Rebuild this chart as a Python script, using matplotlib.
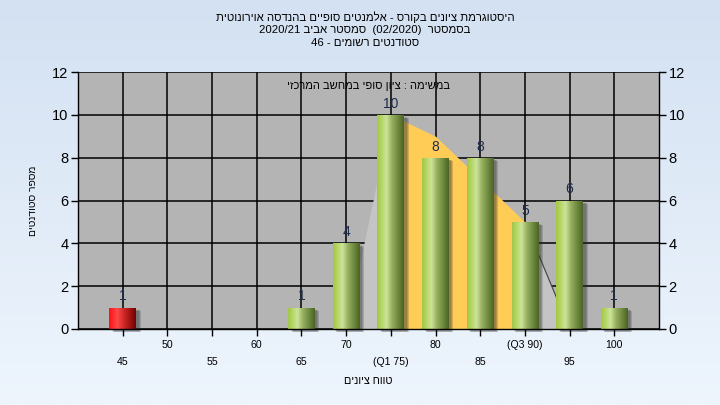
import re
import numpy as np
import matplotlib
matplotlib.use("Agg")
import matplotlib.pyplot as plt
import matplotlib.patches as mpatches
import matplotlib.transforms as mtransforms
from matplotlib.colors import LinearSegmentedColormap

plt.rcParams['font.family'] = ['Liberation Sans', 'DejaVu Sans']

# ---------------- data ----------------
grades = ["45", "50", "55", "60", "65", "70", "75", "80", "85", "90", "95", "100"]
counts = [1, 0, 0, 0, 1, 4, 10, 8, 8, 5, 6, 1]
tick_labels = ["45", "50", "55", "60", "65", "70", "(Q1 75)", "80", "85", "(Q3 90)", "95", "100"]
fail_grades = ["45"]
curve_grades = ["70", "75", "80", "85", "90", "95"]
curve_values = [0, 10, 9, 7, 5, 0]
q1_grade = "75"
q3_grade = "90"

title_lines = [
    "היסטוגרמת ציונים בקורס - אלמנטים סופיים בהנדסה אוירונוטית",
    "בסמסטר  (02/2020)  סמסטר אביב 2020/21",
    "סטודנטים רשומים - 46",
]
note_text = "במשימה : ציון סופי במחשב המרכזי"
x_title = "טווח ציונים"
y_title = "מספר סטודנטים"
y_ticks = [0, 2, 4, 6, 8, 10, 12]


def vis(s):
    """logical RTL string -> visual order for left-to-right rendering"""
    r = s[::-1]
    r = re.sub(r'[0-9A-Za-z/.]+', lambda m: m.group(0)[::-1], r)
    return r.translate({ord('('): ')', ord(')'): '('})


# ---------------- figure ----------------
fig = plt.figure(figsize=(7.2, 4.05), dpi=100)

# background gradient
bg = fig.add_axes([0, 0, 1, 1], zorder=-10)
grad = np.linspace(0, 1, 256).reshape(-1, 1)
bg_cmap = LinearSegmentedColormap.from_list("bg", ["#d3e1f2", "#eef5fd"])
bg.imshow(grad, aspect='auto', cmap=bg_cmap, extent=(0, 1, 0, 1), origin='upper')
bg.set_axis_off()

ax = fig.add_axes([78 / 720, 1 - 329 / 405, 581 / 720, 257 / 405])
ax.set_facecolor("#b4b4b4")

xs = np.arange(len(grades))
ax.set_xlim(-1, 12)
ax.set_ylim(0, 12)

# grid
for y in y_ticks:
    ax.axhline(y, color='black', lw=1.1, zorder=0.5)
for x in xs:
    ax.axvline(x, color='black', lw=1.1, zorder=0.5)

# curve area (grey outside quartiles, yellow between)
cx = np.array([grades.index(g) for g in curve_grades], dtype=float)
cy = np.array(curve_values, dtype=float)
iq1 = curve_grades.index(q1_grade)
iq3 = curve_grades.index(q3_grade)
ax.fill_between(cx[:iq1 + 1], 0, cy[:iq1 + 1], color="#c4c4c4", lw=0, zorder=1)
ax.fill_between(cx[iq3:], 0, cy[iq3:], color="#c4c4c4", lw=0, zorder=1)
ax.fill_between(cx[iq1:iq3 + 1], 0, cy[iq1:iq3 + 1], color="#ffcc55", lw=0, zorder=1.1)
ax.plot(cx[iq3:], cy[iq3:], color="#404040", lw=0.8, zorder=1.2)

# bars
green_cmap = LinearSegmentedColormap.from_list(
    "g", [(0, "#a2c64a"), (0.12, "#b0d258"), (0.35, "#cce49a"), (0.55, "#98b060"),
          (0.85, "#637e36"), (1, "#4a6424")])
red_cmap = LinearSegmentedColormap.from_list(
    "r", [(0, "#ff1010"), (0.3, "#ff4848"), (0.55, "#d02828"), (0.85, "#960c0c"), (1, "#680606")])
w = 0.6
hgrad = np.linspace(0, 1, 128).reshape(1, -1)
for x, g, c in zip(xs, grades, counts):
    if c <= 0:
        continue
    # soft shadow
    for k, a in enumerate([0.2, 0.2, 0.2]):
        off = mtransforms.ScaledTranslation((2.5 + k) / 100, -(2 + k * 0.7) / 100, fig.dpi_scale_trans)
        sh = mpatches.Rectangle((x - w / 2, 0), w, c, facecolor="#303030", alpha=a, lw=0,
                                transform=ax.transData + off, zorder=1.5, clip_on=False)
        ax.add_patch(sh)
    rect = mpatches.Rectangle((x - w / 2, 0), w, c, facecolor='none', lw=0, zorder=2)
    ax.add_patch(rect)
    cmap = red_cmap if g in fail_grades else green_cmap
    im = ax.imshow(hgrad, cmap=cmap, aspect='auto', extent=(x - w / 2, x + w / 2, 0, c),
                   zorder=2, interpolation='bilinear')
    im.set_clip_path(rect)
    ax.annotate(str(c), (x, c), xytext=(0, 3), textcoords='offset points',
                ha='center', va='bottom', fontsize=10, color="#1c2c4c", zorder=3)

ax.set_xlim(-1, 12)
ax.set_ylim(0, 12)

# axes styling
for s in ['left', 'bottom', 'right']:
    ax.spines[s].set_color('black')
    ax.spines[s].set_linewidth(1.0)
ax.spines['top'].set_visible(False)
ax.set_yticks(y_ticks)
ax.tick_params(axis='y', which='both', left=True, right=True, labelleft=True, labelright=True,
               direction='out', length=5, width=1, labelsize=10.5, colors='black', pad=2)
ax.set_xticks(xs)
ax.set_xticklabels([])
ax.tick_params(axis='x', direction='out', length=5, width=1)

xt = ax.get_xaxis_transform()
for i, (x, lab) in enumerate(zip(xs, tick_labels)):
    yy = -0.128 if i % 2 == 0 else -0.062
    ax.text(x, yy, lab, transform=xt, ha='center', va='center', fontsize=7.6, color='black')

ax.text(0.5, -0.202, vis(x_title), transform=ax.transAxes, ha='center', va='center', fontsize=7.8)
ax.text(-0.077, 0.5, vis(y_title), transform=ax.transAxes, ha='center', va='center',
        rotation=90, fontsize=7.4)
ax.text(0.5, 0.945, vis(note_text), transform=ax.transAxes, ha='center', va='center',
        fontsize=8, zorder=4)

for i, line in enumerate(title_lines):
    fig.text(365 / 720, 1 - (17 + 13 * i) / 405, vis(line), ha='center', va='center', fontsize=8.2)

fig.savefig("out.png", dpi=100)
